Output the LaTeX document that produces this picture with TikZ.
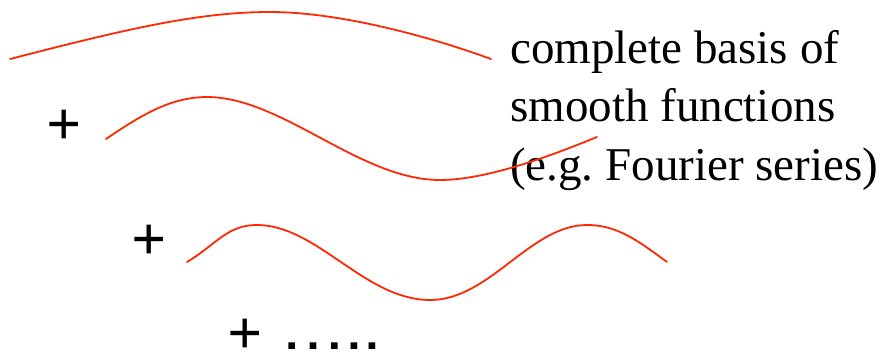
\documentclass[tikz,border=0pt]{standalone}
\usepackage{fontspec}
\setmainfont{Liberation Serif}
\newfontfamily\plusfont{TeX Gyre Heros}
\usepackage{tikz}
\definecolor{wavered}{RGB}{255,40,0}
\tikzset{
  wave/.style={wavered, line width=1.8pt, line cap=round},
  plussign/.style={font=\plusfont\fontsize{64}{64}\selectfont, inner sep=0pt, anchor=base west},
  basistext/.style={font=\fontsize{47}{58}\selectfont\frenchspacing, inner sep=0pt, anchor=base west},
}

\begin{document}
\begin{tikzpicture}[x=1pt, y=-1pt]
    \useasboundingbox (0,0) rectangle (888,354);

    % caption
    \node[basistext] (linea) at (510,63.5) {complete basis of};
    \node[basistext] (lineb) at (510,121.5) {smooth functions};
    \node[basistext] (linec) at (510,180) {(e.g. Fourier series)};

    % first mode
    \draw[wave] (10,59) .. controls (130,28) and (200,12) .. (270,12)
        .. controls (340,12) and (431,37) .. (491,59);

    % second mode
    \node[plussign] (plusa) at (45,140) {+};
    \draw[wave] (106,139) .. controls (140,116) and (170,97) .. (207,97)
        .. controls (282,97) and (360,180) .. (440,180)
        .. controls (490,180) and (560,152) .. (597,137);

    % third mode
    \node[plussign] (plusb) at (130,255) {+};
    \draw[wave] (187,262) .. controls (217,244) and (227,225) .. (257,225)
        .. controls (317,225) and (365,300) .. (430,300)
        .. controls (490,300) and (530,225) .. (587,225)
        .. controls (617,225) and (637,240) .. (667,262);

    % and so on
    \node[plussign] (more) at (226,349) {+ …..};
\end{tikzpicture}
\end{document}
